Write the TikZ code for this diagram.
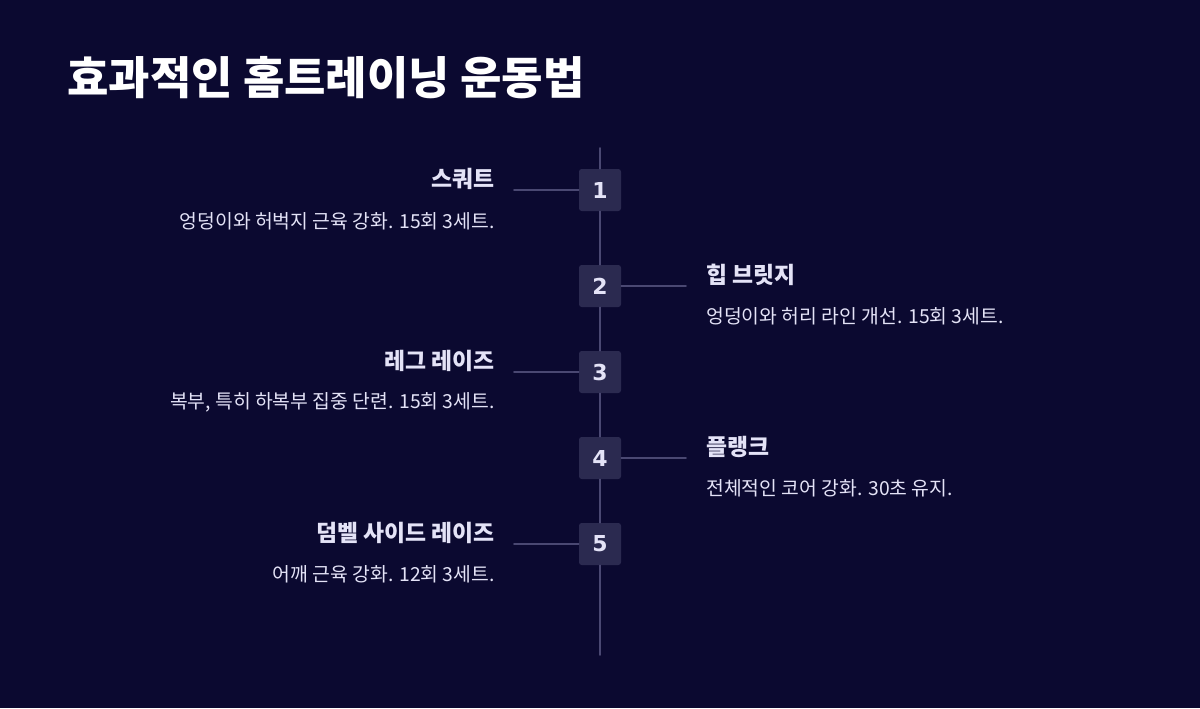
\documentclass[tikz,border=0pt]{standalone}
\usepackage{fontspec}
\setmainfont{Noto Sans CJK KR}
\newfontfamily\numfont{DejaVu Sans}
\definecolor{bgnavy}{HTML}{0B0930}
\definecolor{boxfill}{HTML}{2B2A50}
\definecolor{linegray}{HTML}{4A4872}
\definecolor{txtlight}{HTML}{E4E3F7}
\tikzset{
  stepbox/.style={rectangle, rounded corners=1.5pt, fill=boxfill, minimum width=0.84cm, minimum height=0.84cm, inner sep=0pt, text=txtlight, font=\numfont\bfseries\fontsize{12.5}{14}\selectfont},
  tline/.style={draw=linegray, line width=0.9pt},
  itemtitle/.style={text=txtlight, font=\bfseries\fontsize{13}{15}\selectfont, inner sep=0pt},
  itemdesc/.style={text=txtlight, font=\fontsize{11}{13}\selectfont, inner sep=0pt}
}
\begin{document}
\begin{tikzpicture}[x=0.02cm, y=-0.02cm, line cap=round, line join=round]
  % Hintergrund
  \fill[bgnavy] (0,0) rectangle (1200,708);
  \useasboundingbox (0,0) rectangle (1200,708);

  % Titel
  \node[anchor=west, text=white, font=\bfseries\fontsize{25.6}{30}\selectfont, inner sep=0pt] (title) at (67,78) {효과적인 홈트레이닝 운동법};

  % Zeitachse
  \coordinate (top) at (600,148);
  \coordinate (bottom) at (600,655);
  \node[stepbox] (n1) at (600,190) {1};
  \node[stepbox] (n2) at (600,286) {2};
  \node[stepbox] (n3) at (600,372) {3};
  \node[stepbox] (n4) at (600,458) {4};
  \node[stepbox] (n5) at (600,544) {5};
  \draw[tline] (top) -- (n1) -- (n2) -- (n3) -- (n4) -- (n5) -- (bottom);

  % Verbindungen
  \coordinate (l1) at (514,190);
  \coordinate (r2) at (686,286);
  \coordinate (l3) at (514,372);
  \coordinate (r4) at (686,458);
  \coordinate (l5) at (514,544);
  \draw[tline] (n1.west) -- (l1);
  \draw[tline] (n2.east) -- (r2);
  \draw[tline] (n3.west) -- (l3);
  \draw[tline] (n4.east) -- (r4);
  \draw[tline] (n5.west) -- (l5);

  % Texte links
  \node[itemtitle, anchor=east] (t1) at (495,179) {스쿼트};
  \node[itemdesc, anchor=east] (d1) at (495,221) {엉덩이와 허벅지 근육 강화. 15회 3세트.};
  \node[itemtitle, anchor=east] (t3) at (495,361) {레그 레이즈};
  \node[itemdesc, anchor=east] (d3) at (495,402) {복부, 특히 하복부 집중 단련. 15회 3세트.};
  \node[itemtitle, anchor=east] (t5) at (495,533) {덤벨 사이드 레이즈};
  \node[itemdesc, anchor=east] (d5) at (495,574) {어깨 근육 강화. 12회 3세트.};

  % Texte rechts
  \node[itemtitle, anchor=west] (t2) at (706,275) {힙 브릿지};
  \node[itemdesc, anchor=west] (d2) at (706,316) {엉덩이와 허리 라인 개선. 15회 3세트.};
  \node[itemtitle, anchor=west] (t4) at (706,447) {플랭크};
  \node[itemdesc, anchor=west] (d4) at (706,488) {전체적인 코어 강화. 30초 유지.};
\end{tikzpicture}
\end{document}
